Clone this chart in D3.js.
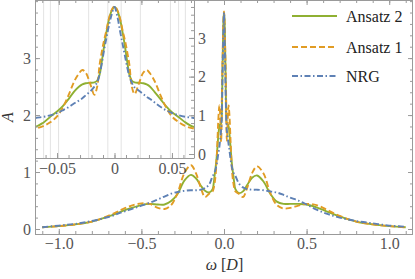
<!DOCTYPE html>
<html><head><meta charset="utf-8">
<script src="https://cdn.jsdelivr.net/npm/d3@7"></script>
<style>body{margin:0;background:#fff} svg{display:block} text{font-family:"Liberation Serif",serif}</style>
</head><body><svg id="c" width="415" height="279" font-family="Liberation Serif, serif"></svg>
<script>
const omega = [-1.1, -1.0, -0.9, -0.8, -0.7, -0.62, -0.56, -0.5, -0.45, -0.4, -0.36, -0.32, -0.28, -0.24, -0.2, -0.17, -0.14, -0.115, -0.09, -0.069, -0.062, -0.056, -0.05, -0.045, -0.04, -0.035, -0.031, -0.028, -0.025, -0.021, -0.0175, -0.015, -0.013, -0.011, -0.009, -0.007, -0.005, -0.0025, 0,
  0.0025, 0.005, 0.007, 0.009, 0.011, 0.013, 0.015, 0.0175, 0.021, 0.025, 0.028, 0.031, 0.035, 0.04, 0.045, 0.05, 0.056, 0.062, 0.069, 0.09, 0.115, 0.14, 0.17, 0.2, 0.24, 0.28, 0.32, 0.36, 0.4, 0.45, 0.5, 0.56, 0.62, 0.7, 0.8, 0.9, 1.0, 1.1];
const ansatz2 = [0.03, 0.05, 0.08, 0.13, 0.22, 0.31, 0.37, 0.42, 0.44, 0.43, 0.43, 0.49, 0.62, 0.85, 0.95, 0.89, 0.76, 0.67, 0.64, 0.70, 0.81, 0.96, 1.10, 1.24, 1.42, 1.62, 1.74, 1.80, 1.83, 1.84, 1.85, 1.90, 2.05, 2.40, 2.80, 3.15, 3.46, 3.70,
  3.80,
  3.70, 3.46, 3.15, 2.80, 2.40, 2.05, 1.90, 1.85, 1.84, 1.83, 1.80, 1.74, 1.60, 1.42, 1.23, 1.08, 0.95, 0.81, 0.70, 0.63, 0.66, 0.77, 0.90, 0.94, 0.83, 0.62, 0.48, 0.44, 0.44, 0.44, 0.43, 0.38, 0.31, 0.22, 0.13, 0.08, 0.05, 0.03];
const ansatz1 = [0.03, 0.05, 0.08, 0.13, 0.23, 0.34, 0.41, 0.45, 0.44, 0.37, 0.35, 0.42, 0.64, 0.98, 1.12, 0.98, 0.72, 0.56, 0.62, 0.66, 0.72, 0.82, 0.97, 1.20, 1.52, 1.88, 2.08, 2.17, 2.10, 1.80, 1.53, 1.75, 2.30, 2.65, 2.95, 3.20, 3.48, 3.72,
  3.82,
  3.72, 3.48, 3.20, 2.95, 2.65, 2.30, 1.75, 1.55, 1.80, 2.10, 2.17, 2.08, 1.88, 1.52, 1.20, 0.97, 0.82, 0.72, 0.66, 0.62, 0.56, 0.72, 0.98, 1.10, 0.97, 0.63, 0.42, 0.36, 0.37, 0.41, 0.44, 0.42, 0.34, 0.23, 0.13, 0.08, 0.05, 0.03];
const nrg = [0.03, 0.06, 0.09, 0.14, 0.21, 0.29, 0.35, 0.41, 0.46, 0.52, 0.57, 0.62, 0.65, 0.67, 0.68, 0.68, 0.69, 0.72, 0.78, 0.93, 0.96, 1.00, 1.06, 1.13, 1.21, 1.31, 1.38, 1.44, 1.52, 1.62, 1.74, 1.86, 2.05, 2.35, 2.70, 3.00, 3.30, 3.60,
  3.80,
  3.55, 3.15, 2.85, 2.55, 2.25, 2.00, 1.85, 1.72, 1.64, 1.55, 1.48, 1.42, 1.33, 1.22, 1.13, 1.06, 1.00, 0.96, 0.93, 0.80, 0.73, 0.70, 0.69, 0.69, 0.68, 0.66, 0.64, 0.60, 0.55, 0.50, 0.43, 0.34, 0.27, 0.20, 0.14, 0.10, 0.06, 0.04];
const seriesNames = ["Ansatz 2", "Ansatz 1", "NRG"];
const mainXTicks = [-1.0, -0.5, 0.0, 0.5, 1.0];
const mainXLabels = ["\u22121.0", "\u22120.5", "0.0", "0.5", "1.0"];
const mainYTicks = [0, 1, 2, 3];
const insetXTicks = [-0.05, 0, 0.05];
const insetXLabels = ["\u22120.05", "0", "0.05"];
const insetYTicks = [0, 1, 2, 3];
const insetGrid = [-0.0617, -0.0558, -0.0487, -0.0225, -0.0058, 0.0058, 0.0225, 0.0487, 0.0558, 0.0617];

const svg = d3.select("#c");
const FONT = "Liberation Serif, serif";
const FS = 16;
const frameColor = "#9a9a9a";
const labelColor = "#555";

const M = {l: 35, r: 413, t: 0, b: 234};
const x = d3.scaleLinear().domain([-1.144, 1.144]).range([M.l, M.r]);
const y = d3.scaleLinear().domain([-0.088, 4.02]).range([M.b, M.t]);
const I = {l: 35, r: 194, t: 0, b: 158};
const xi = d3.scaleLinear().domain([-0.0692, 0.0692]).range([I.l, I.r]);
const yi = d3.scaleLinear().domain([-0.103, 3.98]).range([I.b, I.t]);

const series = [
  {name: seriesNames[0], vals: ansatz2, color: "#8FB032", dash: null},
  {name: seriesNames[1], vals: ansatz1, color: "#E19C24", dash: "6,3"},
  {name: seriesNames[2], vals: nrg, color: "#5E81B5", dash: "6,2.5,1.5,2.5"}
];

const defs = svg.append("defs");
defs.append("clipPath").attr("id", "cm").append("rect")
  .attr("x", M.l).attr("y", M.t).attr("width", M.r - M.l).attr("height", M.b - M.t);
defs.append("clipPath").attr("id", "ci").append("rect")
  .attr("x", I.l).attr("y", I.t).attr("width", I.r - I.l).attr("height", I.b - I.t);

// main curves
const gMain = svg.append("g").attr("clip-path", "url(#cm)");
series.forEach(s => {
  const line = d3.line().x((d, i) => x(omega[i])).y(d => y(d)).curve(d3.curveCatmullRom.alpha(0.5));
  gMain.append("path").attr("d", line(s.vals)).attr("fill", "none")
    .attr("stroke", s.color).attr("stroke-width", 1.9)
    .attr("stroke-dasharray", s.dash);
});

// inset
svg.append("rect").attr("x", I.l).attr("y", I.t).attr("width", I.r - I.l).attr("height", I.b - I.t).attr("fill", "#fff");
const gIn = svg.append("g").attr("clip-path", "url(#ci)");
gIn.selectAll("line.grid").data(insetGrid).join("line")
  .attr("x1", d => xi(d)).attr("x2", d => xi(d)).attr("y1", I.t).attr("y2", I.b)
  .attr("stroke", "#dcdcdc").attr("stroke-width", 0.8);
series.forEach(s => {
  const idx = omega.map((w, i) => i).filter(i => Math.abs(omega[i]) <= 0.1);
  const line = d3.line().x(i => xi(omega[i])).y(i => yi(s.vals[i])).curve(d3.curveCatmullRom.alpha(0.5));
  gIn.append("path").attr("d", line(idx)).attr("fill", "none")
    .attr("stroke", s.color).attr("stroke-width", 1.9)
    .attr("stroke-dasharray", s.dash);
});

function styleAxis(g) {
  g.attr("font-family", FONT).attr("font-size", FS);
  g.select(".domain").remove();
  g.selectAll("line").attr("stroke", frameColor);
  g.selectAll("text").attr("fill", labelColor);
}
// inset axes
svg.append("g").attr("transform", `translate(0,${I.b})`)
  .call(d3.axisBottom(xi).tickValues(d3.range(-6, 7).map(k => k / 100)).tickSize(-3).tickFormat("")).call(styleAxis);
svg.append("g").attr("transform", `translate(0,${I.b})`)
  .call(d3.axisBottom(xi).tickValues(insetXTicks).tickSize(-5).tickPadding(5).tickFormat((d, i) => insetXLabels[i])).call(styleAxis);
svg.append("g").attr("transform", `translate(${I.r},0)`)
  .call(d3.axisRight(yi).tickValues(d3.range(0, 20).map(k => k / 5)).tickSize(-3).tickFormat("")).call(styleAxis);
svg.append("g").attr("transform", `translate(${I.r},0)`)
  .call(d3.axisRight(yi).tickValues(insetYTicks).tickSize(-5).tickPadding(4).tickFormat(d3.format("d"))).call(styleAxis);
svg.append("line").attr("x1", I.l).attr("x2", I.r).attr("y1", I.b + 0.5).attr("y2", I.b + 0.5).attr("stroke", frameColor);
svg.append("line").attr("x1", I.r + 0.5).attr("x2", I.r + 0.5).attr("y1", I.t).attr("y2", I.b + 0.5).attr("stroke", frameColor);

// main axes
const minorX = d3.range(-11, 12).map(k => k / 10);
const minorY = d3.range(0, 21).map(k => k / 5);
svg.append("g").attr("transform", `translate(0,${M.b})`)
  .call(d3.axisBottom(x).tickValues(minorX).tickSize(-3).tickFormat("")).call(styleAxis);
svg.append("g").attr("transform", `translate(0,${M.b})`)
  .call(d3.axisBottom(x).tickValues(mainXTicks).tickSize(-5).tickPadding(4).tickFormat((d, i) => mainXLabels[i])).call(styleAxis);
svg.append("g").attr("transform", `translate(0,${M.t})`)
  .call(d3.axisTop(x).tickValues(minorX).tickSize(-3).tickFormat("")).call(styleAxis);
svg.append("g").attr("transform", `translate(0,${M.t})`)
  .call(d3.axisTop(x).tickValues(mainXTicks).tickSize(-5).tickFormat("")).call(styleAxis);
svg.append("g").attr("transform", `translate(${M.l},0)`)
  .call(d3.axisLeft(y).tickValues(minorY).tickSize(-3).tickFormat("")).call(styleAxis);
svg.append("g").attr("transform", `translate(${M.l},0)`)
  .call(d3.axisLeft(y).tickValues(mainYTicks).tickSize(-5).tickPadding(4).tickFormat(d3.format("d"))).call(styleAxis);
svg.append("g").attr("transform", `translate(${M.r},0)`)
  .call(d3.axisRight(y).tickValues(minorY).tickSize(-3).tickFormat("")).call(styleAxis);
svg.append("g").attr("transform", `translate(${M.r},0)`)
  .call(d3.axisRight(y).tickValues(mainYTicks).tickSize(-5).tickFormat("")).call(styleAxis);
svg.append("rect").attr("x", M.l + 0.5).attr("y", M.t + 0.5).attr("width", M.r - M.l - 1).attr("height", M.b - M.t)
  .attr("fill", "none").attr("stroke", frameColor);

// legend
const legY = [16, 47, 76];
series.forEach((s, i) => {
  svg.append("line").attr("x1", 292).attr("x2", 337).attr("y1", legY[i]).attr("y2", legY[i])
    .attr("stroke", s.color).attr("stroke-width", 1.9).attr("stroke-dasharray", s.dash);
  svg.append("text").attr("x", 346).attr("y", legY[i]).attr("dy", "0.35em")
    .attr("font-family", FONT).attr("font-size", FS).attr("fill", "#222").text(s.name);
});

// axis labels
svg.append("text").attr("transform", "translate(13,117) rotate(-90)").attr("text-anchor", "middle")
  .attr("font-family", FONT).attr("font-size", FS).attr("font-style", "italic").attr("fill", "#333").text("A");
const xl = svg.append("text").attr("x", 224.5).attr("y", 270).attr("text-anchor", "middle")
  .attr("font-family", FONT).attr("font-size", FS).attr("fill", "#333");
xl.append("tspan").attr("font-style", "italic").text("\u03c9");
xl.append("tspan").text(" [");
xl.append("tspan").attr("font-style", "italic").text("D");
xl.append("tspan").text("]");
</script></body></html>
